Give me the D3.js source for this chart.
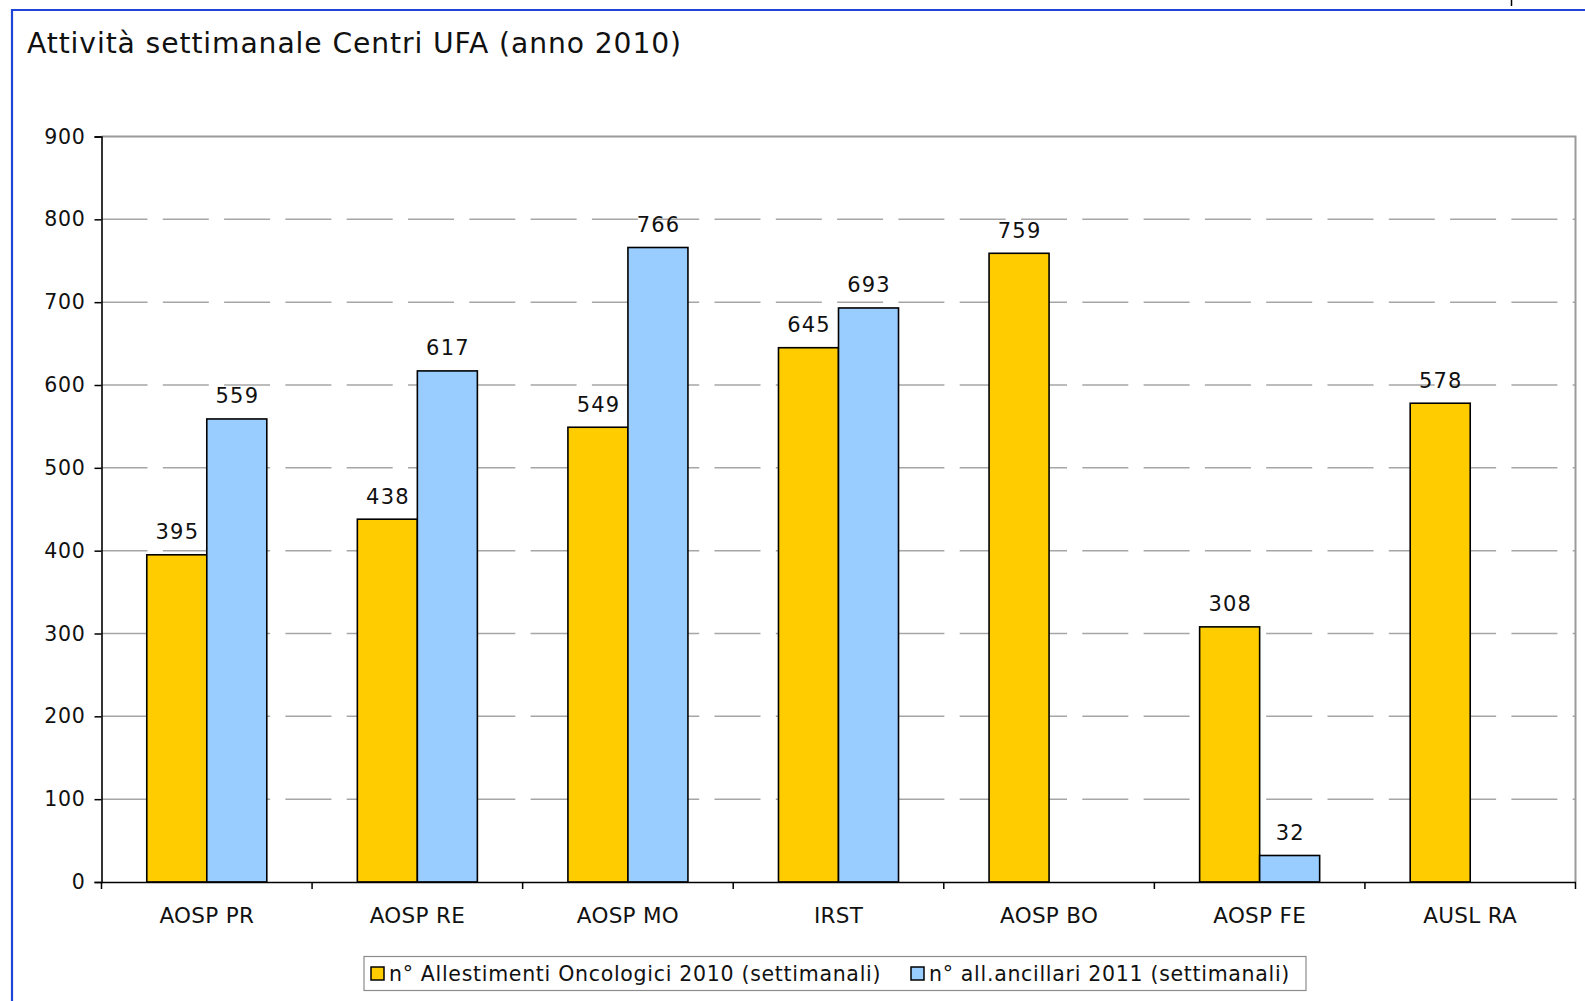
<!DOCTYPE html>
<html>
<head>
<meta charset="utf-8">
<script src="https://cdn.jsdelivr.net/npm/d3@7"></script>
<style>
  body { margin: 0; background: #fff; }
  svg { display: block; font-family: "DejaVu Sans", Verdana, sans-serif; }
</style>
</head>
<body>
<svg id="chart" width="1585" height="1001"></svg>
<script>
const centers = ["AOSP PR", "AOSP RE", "AOSP MO", "IRST", "AOSP BO", "AOSP FE", "AUSL RA"];
const oncologici2010 = [395, 438, 549, 645, 759, 308, 578];
const ancillari2011 = [559, 617, 766, 693, null, 32, null];
const seriesNames = ["n° Allestimenti Oncologici 2010 (settimanali)", "n° all.ancillari 2011 (settimanali)"];
const seriesColors = ["#FFCC00", "#99CCFF"];
const yTicks = [0, 100, 200, 300, 400, 500, 600, 700, 800, 900];
const title = "Attività settimanale Centri UFA (anno 2010)";

const svg = d3.select("#chart");
const margin = { left: 101.5, top: 136.5, right: 1575.5, bottom: 882 };

// outer frame (blue, only top and left visible)
svg.append("path")
  .attr("d", `M12,1001 V10 H1585`)
  .attr("fill", "none")
  .attr("stroke", "#1f45d8")
  .attr("stroke-width", 2.2);
svg.append("line")
  .attr("x1", 1511.5).attr("x2", 1511.5)
  .attr("y1", 0).attr("y2", 6)
  .attr("stroke", "#000").attr("stroke-width", 1.5);

svg.append("text")
  .attr("x", 27)
  .attr("y", 53)
  .attr("font-size", 28.2)
  .attr("letter-spacing", 0.9)
  .attr("fill", "#111")
  .text(title);

const y = d3.scaleLinear().domain([0, 900]).range([margin.bottom, margin.top]);
const x0 = d3.scaleBand().domain(centers).range([margin.left, margin.right])
  .paddingInner(0.43).paddingOuter(0.215);
const x1 = d3.scaleBand().domain([0, 1]).range([0, x0.bandwidth()]);

// gridlines
svg.append("g")
  .selectAll("line")
  .data(yTicks.filter((d) => d > 0 && d < 900))
  .enter()
  .append("line")
  .attr("x1", margin.left)
  .attr("x2", margin.right)
  .attr("y1", (d) => y(d))
  .attr("y2", (d) => y(d))
  .attr("stroke", "#a6a6a6")
  .attr("stroke-width", 1.5)
  .attr("stroke-dasharray", "46,15.3");

// plot border top + right
svg.append("path")
  .attr("d", `M${margin.left},${y(900)} H${margin.right} V${margin.bottom}`)
  .attr("fill", "none")
  .attr("stroke", "#9a9a9a")
  .attr("stroke-width", 2);

// bars
const table = centers.map((c, i) => ({ center: c, values: [oncologici2010[i], ancillari2011[i]] }));
const groups = svg.append("g")
  .selectAll("g")
  .data(table)
  .enter()
  .append("g")
  .attr("transform", (d) => `translate(${x0(d.center)},0)`);

const bars = groups.selectAll("g.bar")
  .data((d) => d.values.map((v, k) => ({ v, k })).filter((e) => e.v != null))
  .enter()
  .append("g")
  .attr("class", "bar");

bars.append("rect")
  .attr("x", (d) => x1(d.k))
  .attr("y", (d) => y(d.v))
  .attr("width", x1.bandwidth())
  .attr("height", (d) => y(0) - y(d.v))
  .attr("fill", (d) => seriesColors[d.k])
  .attr("stroke", "#000")
  .attr("stroke-width", 1.6);

bars.append("text")
  .attr("x", (d) => x1(d.k) + x1.bandwidth() / 2 + 0.6)
  .attr("y", (d) => y(d.v) - 15.5)
  .attr("text-anchor", "middle")
  .attr("font-size", 21)
  .attr("letter-spacing", 1.2)
  .attr("fill", "#111")
  .text((d) => d.v);

// y axis
const yAxis = d3.axisLeft(y).tickValues(yTicks).tickSize(7).tickPadding(9);
const gy = svg.append("g")
  .attr("transform", `translate(${margin.left},0)`)
  .call(yAxis);
gy.select(".domain").attr("stroke", "#000").attr("stroke-width", 1.6);
gy.selectAll(".tick line").attr("stroke", "#000").attr("stroke-width", 1.5);
gy.selectAll(".tick text")
  .attr("font-size", 20.5)
  .attr("letter-spacing", 0.7)
  .attr("fill", "#111")
  .attr("font-family", "DejaVu Sans, sans-serif");

// x axis
const xAxis = d3.axisBottom(x0).tickSize(0).tickPadding(0);
const gx = svg.append("g")
  .attr("transform", `translate(0,${margin.bottom})`)
  .call(xAxis);
gx.select(".domain").attr("stroke", "#000").attr("stroke-width", 1.6);
gx.selectAll(".tick text")
  .attr("y", 41)
  .attr("dy", 0)
  .attr("font-size", 21.5)
  .attr("letter-spacing", 0.3)
  .attr("fill", "#111")
  .attr("font-family", "DejaVu Sans, sans-serif");
// boundary ticks between categories
gx.selectAll("line.sep")
  .data(d3.range(centers.length + 1))
  .enter()
  .append("line")
  .attr("class", "sep")
  .attr("x1", (i) => margin.left + i * x0.step())
  .attr("x2", (i) => margin.left + i * x0.step())
  .attr("y1", 0)
  .attr("y2", 7)
  .attr("stroke", "#000")
  .attr("stroke-width", 1.5);

// legend
const legend = svg.append("g");
legend.append("rect")
  .attr("x", 364).attr("y", 956.5)
  .attr("width", 942).attr("height", 34)
  .attr("fill", "#fff")
  .attr("stroke", "#8c8c8c")
  .attr("stroke-width", 1.2);
const legendX = [371, 911];
const items = legend.selectAll("g.item")
  .data(seriesNames)
  .enter()
  .append("g")
  .attr("class", "item")
  .attr("transform", (d, i) => `translate(${legendX[i]},0)`);
items.append("rect")
  .attr("x", 0).attr("y", 967)
  .attr("width", 13).attr("height", 13)
  .attr("fill", (d, i) => seriesColors[i])
  .attr("stroke", "#000")
  .attr("stroke-width", 1.5);
items.append("text")
  .attr("x", 18)
  .attr("y", 981)
  .attr("font-size", 20.5)
  .attr("letter-spacing", 0.7)
  .attr("fill", "#111")
  .text((d) => d);
</script>
</body>
</html>
